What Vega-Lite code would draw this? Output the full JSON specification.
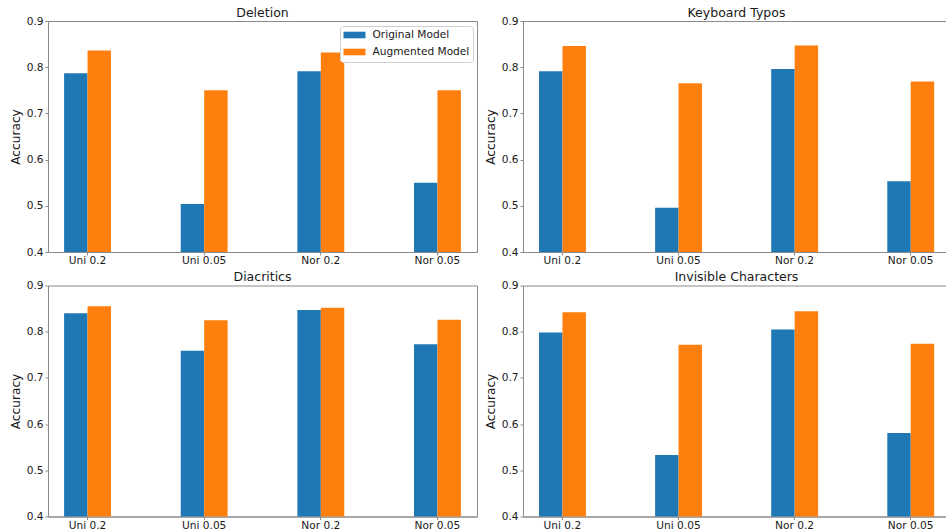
{
  "$schema": "https://vega.github.io/schema/vega-lite/v6.json",
  "padding": {"left": 8, "top": 6, "right": 0, "bottom": 0},
  "background": "white",
  "datasets": {
    "acc": [
      {"panel": "Deletion", "setting": "Uni 0.2", "model": "Original Model", "accuracy": 0.787},
      {"panel": "Deletion", "setting": "Uni 0.2", "model": "Augmented Model", "accuracy": 0.836},
      {"panel": "Deletion", "setting": "Uni 0.05", "model": "Original Model", "accuracy": 0.504},
      {"panel": "Deletion", "setting": "Uni 0.05", "model": "Augmented Model", "accuracy": 0.750},
      {"panel": "Deletion", "setting": "Nor 0.2", "model": "Original Model", "accuracy": 0.791},
      {"panel": "Deletion", "setting": "Nor 0.2", "model": "Augmented Model", "accuracy": 0.832},
      {"panel": "Deletion", "setting": "Nor 0.05", "model": "Original Model", "accuracy": 0.550},
      {"panel": "Deletion", "setting": "Nor 0.05", "model": "Augmented Model", "accuracy": 0.750},
      {"panel": "Keyboard Typos", "setting": "Uni 0.2", "model": "Original Model", "accuracy": 0.791},
      {"panel": "Keyboard Typos", "setting": "Uni 0.2", "model": "Augmented Model", "accuracy": 0.846},
      {"panel": "Keyboard Typos", "setting": "Uni 0.05", "model": "Original Model", "accuracy": 0.496},
      {"panel": "Keyboard Typos", "setting": "Uni 0.05", "model": "Augmented Model", "accuracy": 0.765},
      {"panel": "Keyboard Typos", "setting": "Nor 0.2", "model": "Original Model", "accuracy": 0.796},
      {"panel": "Keyboard Typos", "setting": "Nor 0.2", "model": "Augmented Model", "accuracy": 0.847},
      {"panel": "Keyboard Typos", "setting": "Nor 0.05", "model": "Original Model", "accuracy": 0.553},
      {"panel": "Keyboard Typos", "setting": "Nor 0.05", "model": "Augmented Model", "accuracy": 0.769},
      {"panel": "Diacritics", "setting": "Uni 0.2", "model": "Original Model", "accuracy": 0.840},
      {"panel": "Diacritics", "setting": "Uni 0.2", "model": "Augmented Model", "accuracy": 0.855},
      {"panel": "Diacritics", "setting": "Uni 0.05", "model": "Original Model", "accuracy": 0.759},
      {"panel": "Diacritics", "setting": "Uni 0.05", "model": "Augmented Model", "accuracy": 0.825},
      {"panel": "Diacritics", "setting": "Nor 0.2", "model": "Original Model", "accuracy": 0.847},
      {"panel": "Diacritics", "setting": "Nor 0.2", "model": "Augmented Model", "accuracy": 0.852},
      {"panel": "Diacritics", "setting": "Nor 0.05", "model": "Original Model", "accuracy": 0.773},
      {"panel": "Diacritics", "setting": "Nor 0.05", "model": "Augmented Model", "accuracy": 0.826},
      {"panel": "Invisible Characters", "setting": "Uni 0.2", "model": "Original Model", "accuracy": 0.798},
      {"panel": "Invisible Characters", "setting": "Uni 0.2", "model": "Augmented Model", "accuracy": 0.842},
      {"panel": "Invisible Characters", "setting": "Uni 0.05", "model": "Original Model", "accuracy": 0.533},
      {"panel": "Invisible Characters", "setting": "Uni 0.05", "model": "Augmented Model", "accuracy": 0.772},
      {"panel": "Invisible Characters", "setting": "Nor 0.2", "model": "Original Model", "accuracy": 0.805},
      {"panel": "Invisible Characters", "setting": "Nor 0.2", "model": "Augmented Model", "accuracy": 0.844},
      {"panel": "Invisible Characters", "setting": "Nor 0.05", "model": "Original Model", "accuracy": 0.581},
      {"panel": "Invisible Characters", "setting": "Nor 0.05", "model": "Augmented Model", "accuracy": 0.774}
    ]
  },
  "spacing": 3.5,
  "resolve": {"legend": {"color": "independent"}, "scale": {"color": "independent"}},
  "vconcat": [
    {
      "spacing": 5,
      "resolve": {"legend": {"color": "independent"}, "scale": {"color": "independent"}},
      "hconcat": [
        {
          "data": {"name": "acc"},
          "transform": [{"filter": "datum.panel === 'Deletion'"}],
          "title": {"text": "Deletion"},
          "width": 429, "height": 231,
          "mark": {"type": "bar"},
          "encoding": {
            "x": {"field": "setting", "type": "nominal", "sort": ["Uni 0.2", "Uni 0.05", "Nor 0.2", "Nor 0.05"], "scale": {"paddingInner": 0.598, "paddingOuter": 0.138}, "axis": {"title": null}},
            "xOffset": {"field": "model", "type": "nominal", "sort": ["Original Model", "Augmented Model"], "scale": {"paddingInner": 0, "paddingOuter": 0}},
            "y": {"field": "accuracy", "type": "quantitative", "scale": {"domain": [0.4, 0.9], "nice": false, "zero": false}, "axis": {"title": "Accuracy", "values": [0.4, 0.5, 0.6, 0.7, 0.8, 0.9], "format": ".1f"}},
            "y2": {"datum": 0.4},
            "color": {"field": "model", "type": "nominal", "sort": ["Original Model", "Augmented Model"], "scale": {"domain": ["Original Model", "Augmented Model"], "range": ["#1f77b4", "#ff7f0e"]},
              "legend": {"title": null, "orient": "top-right", "offset": 4.5, "fillColor": "white", "strokeColor": "#d0d0d0", "cornerRadius": 3, "padding": 3.5, "symbolType": "M-1,-0.6L3,-0.6L3,0.6L-1,0.6Z", "symbolSize": 121, "symbolStrokeWidth": 0, "symbolOpacity": 1, "labelFontSize": 10.6, "labelOffset": 18, "rowPadding": 5, "labelColor": "#1a1a1a", "labelFont": "DejaVu Sans"}}
          }
        },
        {
          "data": {"name": "acc"},
          "transform": [{"filter": "datum.panel === 'Keyboard Typos'"}],
          "title": {"text": "Keyboard Typos"},
          "width": 427, "height": 231,
          "mark": {"type": "bar"},
          "encoding": {
            "x": {"field": "setting", "type": "nominal", "sort": ["Uni 0.2", "Uni 0.05", "Nor 0.2", "Nor 0.05"], "scale": {"paddingInner": 0.598, "paddingOuter": 0.138}, "axis": {"title": null}},
            "xOffset": {"field": "model", "type": "nominal", "sort": ["Original Model", "Augmented Model"], "scale": {"paddingInner": 0, "paddingOuter": 0}},
            "y": {"field": "accuracy", "type": "quantitative", "scale": {"domain": [0.4, 0.9], "nice": false, "zero": false}, "axis": {"title": "Accuracy", "values": [0.4, 0.5, 0.6, 0.7, 0.8, 0.9], "format": ".1f"}},
            "y2": {"datum": 0.4},
            "color": {"field": "model", "type": "nominal", "scale": {"domain": ["Original Model", "Augmented Model"], "range": ["#1f77b4", "#ff7f0e"]}, "legend": null}
          }
        }
      ]
    },
    {
      "spacing": 5,
      "resolve": {"legend": {"color": "independent"}, "scale": {"color": "independent"}},
      "hconcat": [
        {
          "data": {"name": "acc"},
          "transform": [{"filter": "datum.panel === 'Diacritics'"}],
          "title": {"text": "Diacritics"},
          "width": 429, "height": 231,
          "mark": {"type": "bar"},
          "encoding": {
            "x": {"field": "setting", "type": "nominal", "sort": ["Uni 0.2", "Uni 0.05", "Nor 0.2", "Nor 0.05"], "scale": {"paddingInner": 0.598, "paddingOuter": 0.138}, "axis": {"title": null}},
            "xOffset": {"field": "model", "type": "nominal", "sort": ["Original Model", "Augmented Model"], "scale": {"paddingInner": 0, "paddingOuter": 0}},
            "y": {"field": "accuracy", "type": "quantitative", "scale": {"domain": [0.4, 0.9], "nice": false, "zero": false}, "axis": {"title": "Accuracy", "values": [0.4, 0.5, 0.6, 0.7, 0.8, 0.9], "format": ".1f"}},
            "y2": {"datum": 0.4},
            "color": {"field": "model", "type": "nominal", "scale": {"domain": ["Original Model", "Augmented Model"], "range": ["#1f77b4", "#ff7f0e"]}, "legend": null}
          }
        },
        {
          "data": {"name": "acc"},
          "transform": [{"filter": "datum.panel === 'Invisible Characters'"}],
          "title": {"text": "Invisible Characters"},
          "width": 427, "height": 231,
          "mark": {"type": "bar"},
          "encoding": {
            "x": {"field": "setting", "type": "nominal", "sort": ["Uni 0.2", "Uni 0.05", "Nor 0.2", "Nor 0.05"], "scale": {"paddingInner": 0.598, "paddingOuter": 0.138}, "axis": {"title": null}},
            "xOffset": {"field": "model", "type": "nominal", "sort": ["Original Model", "Augmented Model"], "scale": {"paddingInner": 0, "paddingOuter": 0}},
            "y": {"field": "accuracy", "type": "quantitative", "scale": {"domain": [0.4, 0.9], "nice": false, "zero": false}, "axis": {"title": "Accuracy", "values": [0.4, 0.5, 0.6, 0.7, 0.8, 0.9], "format": ".1f"}},
            "y2": {"datum": 0.4},
            "color": {"field": "model", "type": "nominal", "scale": {"domain": ["Original Model", "Augmented Model"], "range": ["#1f77b4", "#ff7f0e"]}, "legend": null}
          }
        }
      ]
    }
  ],
  "config": {
    "font": "DejaVu Sans",
    "view": {"stroke": "#8a8a8a", "strokeWidth": 1},
    "title": {"fontSize": 12.5, "fontWeight": "normal", "color": "#1a1a1a", "offset": -3, "font": "DejaVu Sans"},
    "axis": {
      "grid": false,
      "domainColor": "#8a8a8a",
      "tickColor": "#8a8a8a",
      "tickSize": 3,
      "labelPadding": 0.5,
      "labelFontSize": 10.6,
      "labelColor": "#1a1a1a",
      "labelFont": "DejaVu Sans",
      "titleFont": "DejaVu Sans",
      "titleFontSize": 12.2,
      "titleFontWeight": "normal",
      "titleColor": "#1a1a1a",
      "titlePadding": 4
    },
    "axisX": {"labelAngle": 0},
    "axisY": {"labelBaseline": "middle", "labelPadding": 2}
  }
}
